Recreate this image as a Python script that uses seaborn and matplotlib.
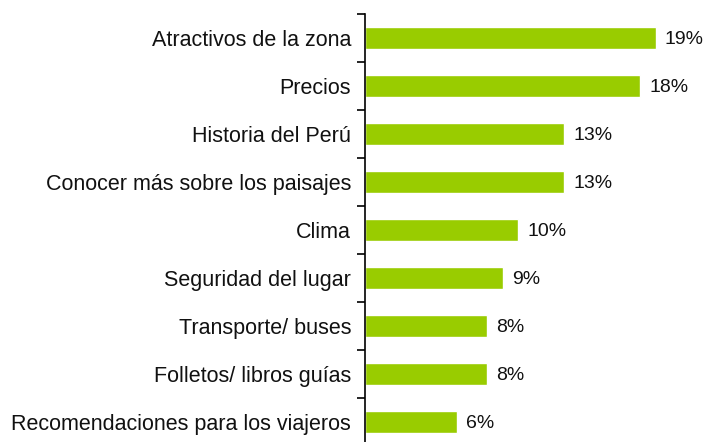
import matplotlib
matplotlib.use("Agg")
import matplotlib.pyplot as plt
import seaborn as sns
from matplotlib.ticker import FixedLocator

categorias = ["Atractivos de la zona", "Precios", "Historia del Perú",
              "Conocer más sobre los paisajes", "Clima", "Seguridad del lugar",
              "Transporte/ buses", "Folletos/ libros guías",
              "Recomendaciones para los viajeros"]
valores = [19, 18, 13, 13, 10, 9, 8, 8, 6]
etiquetas = ["19%", "18%", "13%", "13%", "10%", "9%", "8%", "8%", "6%"]

sns.set_style("white")
plt.rcParams["font.family"] = ["Liberation Sans", "DejaVu Sans"]

fig = plt.figure(figsize=(7.04, 4.42), dpi=100)
ax = fig.add_axes([365 / 704, -4 / 442, (704 - 365) / 704, 432 / 442])

sns.barplot(x=valores, y=categorias, color="#99CC00", width=0.44,
            saturation=1, ax=ax, orient="h")

# etiquetas de porcentaje al final de cada barra
for i, (v, t) in enumerate(zip(valores, etiquetas)):
    ax.text(v + 0.6, i, t, va="center_baseline", ha="left", fontsize=14,
            color="#111111")

ax.set_xlim(0, (704 - 365) / 15.3)
ax.set_ylim(len(categorias) - 0.5, -0.5)
ax.set_xlabel("")
ax.set_ylabel("")
ax.set_xticks([])

for s in ["top", "right", "bottom"]:
    ax.spines[s].set_visible(False)
ax.spines["left"].set_color("black")
ax.spines["left"].set_linewidth(1.2)

ax.tick_params(axis="y", which="major", length=0, pad=10, labelsize=15.5,
               labelcolor="#111111")
for lbl in ax.get_yticklabels():
    lbl.set_va("center_baseline")
ax.yaxis.set_minor_locator(FixedLocator([i - 0.5 for i in range(len(categorias) + 1)]))
ax.tick_params(axis="y", which="minor", length=6, width=1.2, color="black", left=True)

fig.savefig("out.png", dpi=100)
